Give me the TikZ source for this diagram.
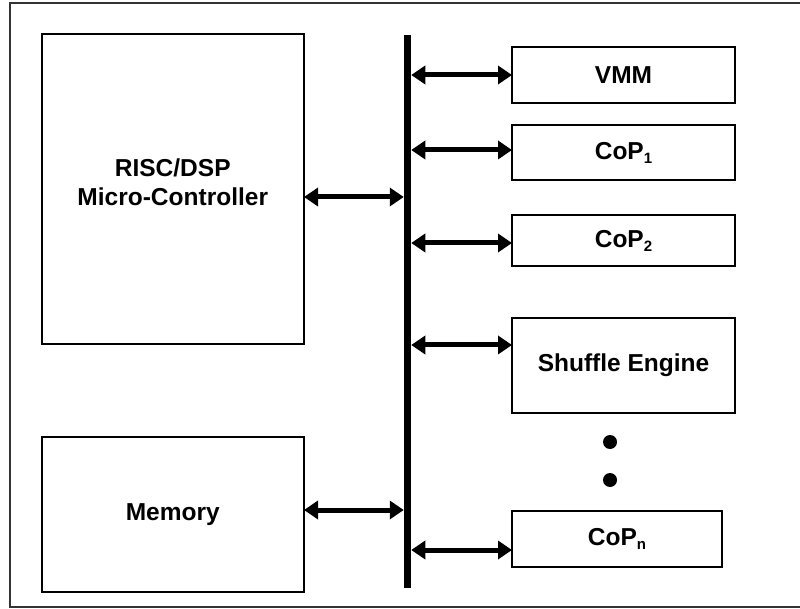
\documentclass[tikz,border=0pt]{standalone}
\usepackage{fontspec}
\setmainfont{Liberation Sans}
\usetikzlibrary{arrows.meta}
\newcommand\subx[1]{\raisebox{-4pt}{\fontsize{15}{15}\selectfont #1}}
\begin{document}
\begin{tikzpicture}[x=1pt,y=-1pt,
  box/.style={draw=black,line width=2pt,inner sep=0pt,outer sep=0pt,align=center,
    font=\fontsize{24.5}{29}\selectfont\bfseries},
  boxtext/.style={inner sep=0pt,align=center,font=\fontsize{24.5}{29}\selectfont\bfseries},
  biarrow/.style={line width=5pt,{Triangle[length=14pt,width=18pt]}-{Triangle[length=14pt,width=18pt]}},
  dot/.style={circle,fill=black,inner sep=0pt,minimum size=14pt},
  bus/.style={fill=black,inner sep=0pt,outer sep=0pt}]
\useasboundingbox (0,0) rectangle (800,609);
\draw[line width=1.5pt,black!80] (803,3) -- (10,3) -- (10,607) -- (803,607);

\node[box,minimum width=262.5pt,minimum height=310pt] (micro) at (172.75,189) {};
\node[boxtext] (microlabel) at (172.75,182) {RISC/DSP\\Micro-Controller};
\node[box,minimum width=262.5pt,minimum height=155pt] (mem) at (172.75,514.5) {Memory};

\node[bus,minimum width=7.5pt,minimum height=553pt] (bus) at (407.5,311.5) {};

\node[box,minimum width=223pt,minimum height=56pt] (vmm) at (623.5,75) {VMM};
\node[box,minimum width=223pt,minimum height=55pt] (cop1) at (623.5,152.5) {CoP\subx{1}};
\node[box,minimum width=223pt,minimum height=51pt] (cop2) at (623.5,240.5) {CoP\subx{2}};
\node[box,minimum width=223pt,minimum height=95pt] (shuffle) at (623.5,365.5) {Shuffle Engine};
\node[box,minimum width=210pt,minimum height=56pt] (copn) at (617,539) {CoP\subx{n}};

\node[dot] (dot1) at (610,442) {};
\node[dot] (dot2) at (610,480) {};

\draw[biarrow] (micro.east |- 0,197) -- (bus.west |- 0,197);
\draw[biarrow] (mem.east |- 0,510) -- (bus.west |- 0,510);
\draw[biarrow] (bus.east |- 0,75) -- (vmm.west |- 0,75);
\draw[biarrow] (bus.east |- 0,150) -- (cop1.west |- 0,150);
\draw[biarrow] (bus.east |- 0,243) -- (cop2.west |- 0,243);
\draw[biarrow] (bus.east |- 0,345) -- (shuffle.west |- 0,345);
\draw[biarrow] (bus.east |- 0,550) -- (copn.west |- 0,550);
\end{tikzpicture}
\end{document}
